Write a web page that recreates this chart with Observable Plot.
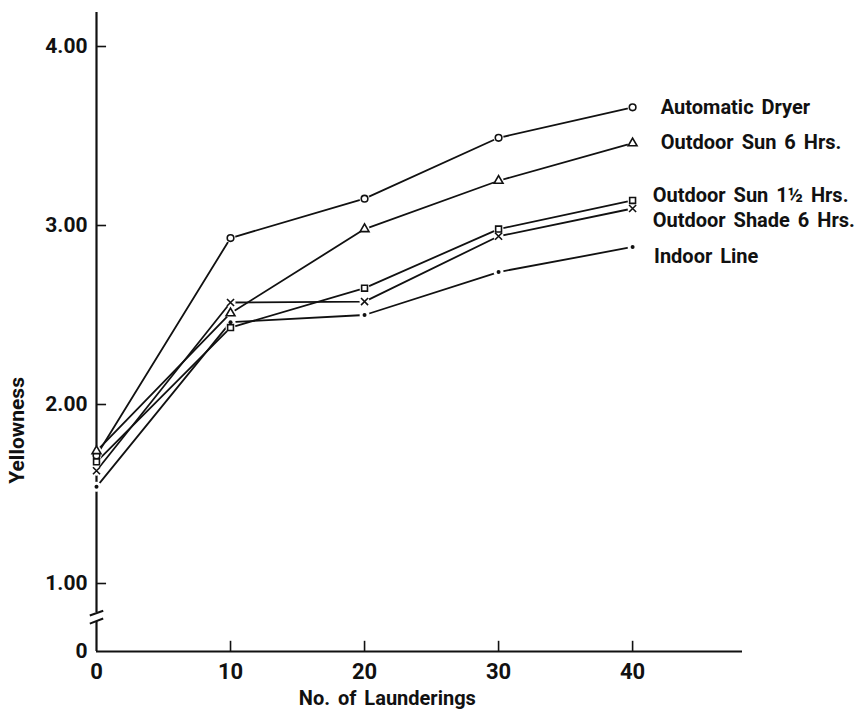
<!DOCTYPE html>
<html><head><meta charset="utf-8">
<script src="https://cdn.jsdelivr.net/npm/d3@7"></script>
<script src="https://cdn.jsdelivr.net/npm/@observablehq/plot@0.6"></script>
<style>body{margin:0;background:#fff} svg{display:block} svg text{word-spacing:3px}</style>
</head><body><div id="chart"></div>
<script>
// Data
const launderings = [0, 10, 20, 30, 40];
const seriesNames = ["Automatic Dryer", "Outdoor Sun 6 Hrs.", "Outdoor Sun 1½ Hrs.", "Outdoor Shade 6 Hrs.", "Indoor Line"];
const seriesSymbols = ["circle", "triangle", "square", "times", "dot"];
const automaticDryer = [1.715, 2.93, 3.15, 3.49, 3.66];
const outdoorSun6 = [1.74, 2.51, 2.98, 3.25, 3.46];
const outdoorSun1half = [1.68, 2.43, 2.65, 2.98, 3.14];
const outdoorShade6 = [1.63, 2.57, 2.575, 2.94, 3.095];
const indoorLine = [1.54, 2.46, 2.50, 2.74, 2.88];
const seriesValues = [automaticDryer, outdoorSun6, outdoorSun1half, outdoorShade6, indoorLine];

// Labels at right
const labelX = [42.1, 42.1, 41.5, 41.5, 41.6];
const labelY = [3.659, 3.464, 3.168, 3.028, 2.827];

// Axes
const yTickValues = [0, 1, 2, 3, 4];
const yTickLabels = ["0", "1.00", "2.00", "3.00", "4.00"];
const yTickMarks = [1, 2, 3, 4];
const xTickValues = [0, 10, 20, 30, 40];
const xTickLabels = ["0", "10", "20", "30", "40"];
const xTickMarks = [10, 20, 30, 40];
const xMax = 48.2, yMax = 4.19;
// axis break (broken y axis between 0 and 1)
const yBreakUpper = 0.575, yBreakLower = 0.44;
const breakSlashes = [
  {x1: -0.5, y1: 0.53, x2: 0.5, y2: 0.60},
  {x1: -0.5, y1: 0.41, x2: 0.5, y2: 0.485}
];

const rows = [];
seriesNames.forEach((s, i) => launderings.forEach((x, j) =>
  rows.push({series: s, symbol: seriesSymbols[i], x, y: seriesValues[i][j]})));
const openRows = rows.filter(d => d.symbol !== "dot");
const dotRows = rows.filter(d => d.symbol === "dot");
const labels = seriesNames.map((s, i) => ({text: s, x: labelX[i], y: labelY[i]}));

const FONT = "Roboto, 'Liberation Sans', sans-serif";
const INK = "#111";

const chart = Plot.plot({
  width: 858,
  height: 713,
  marginLeft: 96, marginRight: 116, marginTop: 12, marginBottom: 62,
  style: {fontFamily: FONT, background: "#fff", color: INK},
  x: {type: "linear", domain: [0, xMax], range: [96, 742], axis: null},
  y: {type: "linear", domain: [0, 1, yMax], range: [651, 583, 12], axis: null},
  marks: [
    // axes
    Plot.ruleX([0], {y1: yBreakUpper, y2: yMax, stroke: INK, strokeWidth: 2.2}),
    Plot.ruleX([0], {y1: 0, y2: yBreakLower, stroke: INK, strokeWidth: 2.2}),
    Plot.ruleY([0], {x1: 0, x2: xMax, stroke: INK, strokeWidth: 2.2}),
    Plot.ruleY(yTickMarks, {x1: 0, x2: 0.75, stroke: INK, strokeWidth: 1.6}),
    Plot.ruleX(xTickMarks, {y1: 0, y2: 0.15, stroke: INK, strokeWidth: 1.6}),
    Plot.link(breakSlashes, {x1: "x1", y1: "y1", x2: "x2", y2: "y2", stroke: INK, strokeWidth: 2}),
    Plot.text(yTickValues, {x: 0, y: d => d, text: (d, i) => yTickLabels[i], dx: -9, textAnchor: "end",
      fontSize: 21, fontWeight: "bold", fill: INK}),
    Plot.text(xTickValues, {x: d => d, y: 0, text: (d, i) => xTickLabels[i], dy: 20,
      fontSize: 22, fontWeight: "bold", fill: INK}),
    Plot.text(["No. of Launderings"], {x: 21.7, y: 0, dy: 47, fontSize: 20, fontWeight: "bold", fill: INK}),
    Plot.text(["Yellowness"], {x: 0, y: 1.855, dx: -79, rotate: -90, fontSize: 21, fontWeight: "bold", fill: INK}),
    // series
    Plot.line(rows, {x: "x", y: "y", z: "series", stroke: INK, strokeWidth: 1.8}),
    Plot.dot(rows, {x: "x", y: "y", r: 5, fill: "white"}),
    Plot.dot(openRows, {x: "x", y: "y", symbol: "symbol", r: 3.3, fill: "white", stroke: INK, strokeWidth: 1.6}),
    Plot.dot(dotRows, {x: "x", y: "y", r: 2, fill: INK}),
    // labels
    Plot.text(labels, {x: "x", y: "y", text: "text", textAnchor: "start", fontSize: 20, fontWeight: "bold", fill: INK})
  ]
});
document.getElementById("chart").appendChild(chart);
</script>
</body></html>
